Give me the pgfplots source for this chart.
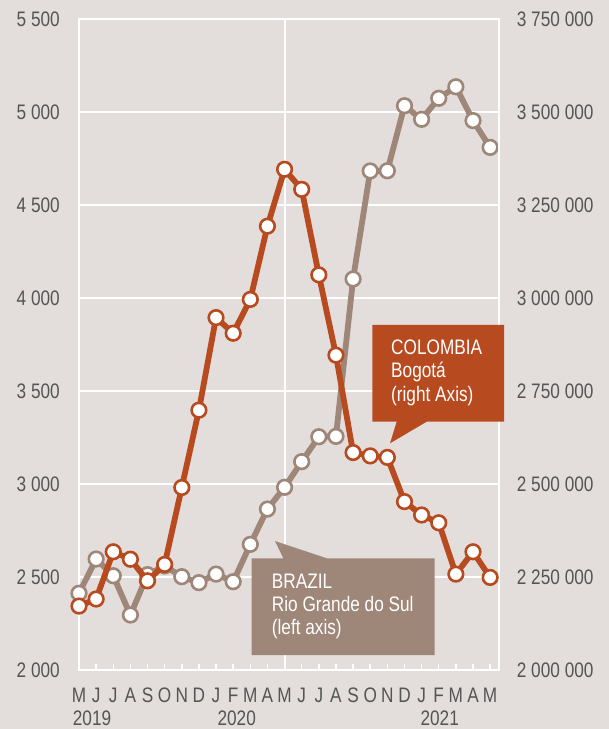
\documentclass[border=0pt]{standalone}
\usepackage{fontspec}
\setmainfont{Liberation Sans}[FakeStretch=0.82]
\usepackage{pgfplots}
\pgfplotsset{compat=1.18}
\usetikzlibrary{backgrounds}
\definecolor{bgc}{RGB}{227,222,219}
\definecolor{oran}{RGB}{184,74,32}
\definecolor{brz}{RGB}{158,134,120}
\definecolor{lab}{RGB}{85,85,85}
\newcommand{\lf}{\fontsize{21}{24}\selectfont}
\begin{document}
\begin{tikzpicture}
\begin{axis}[
  scale only axis, width=419.7pt, height=650.5pt,
  xmin=0, xmax=24.5, ymin=2000, ymax=5500,
  clip=false,
  axis line style={white, line width=2pt},
  xtick={0,...,24},
  xticklabels={M,J,J,A,S,O,N,D,J,F,M,A,M,J,J,A,S,O,N,D,J,F,M,A,M},
  xtick pos=lower, tick align=inside,
  major tick length=6pt,
  x tick style={white, line width=1.5pt},
  xticklabel style={anchor=base, yshift=-32pt, inner sep=0pt, font=\lf, text=lab},
  extra x ticks={12},
  extra x tick labels={},
  extra x tick style={grid=major, major grid style={white, line width=2pt}, major tick length=0pt},
  ytick={2000,2500,...,5500},
  yticklabels={2 000,2 500,3 000,3 500,4 000,4 500,5 000,5 500},
  ytick pos=left,
  y tick style={draw=none},
  yticklabel style={anchor=east, inner sep=0pt, xshift=-19pt, font=\lf, text=lab},
  ymajorgrids, major grid style={white, line width=2pt},
]
\coordinate (O) at (rel axis cs:0,0);
\addplot[brz, line width=5.8pt, mark=*, mark size=7.3pt,
  mark options={fill=white, draw=brz, line width=2.6pt}] coordinates {
(0,2413) (1,2597) (2,2507) (3,2296) (4,2513) (5,2560) (6,2502) (7,2470)
(8,2516) (9,2475) (10,2676) (11,2866) (12,2983) (13,3121) (14,3255) (15,3257)
(16,4104) (17,4685) (18,4686) (19,5036) (20,4963) (21,5076) (22,5138) (23,4956) (24,4812)
};
\end{axis}
\begin{axis}[
  scale only axis, width=419.7pt, height=650.5pt,
  xmin=0, xmax=24.5, ymin=2000000, ymax=3750000,
  clip=false,
  hide x axis,
  axis y line*=right,
  axis line style={white, line width=2pt},
  scaled y ticks=false,
  ytick={2000000,2250000,2500000,2750000,3000000,3250000,3500000,3750000},
  yticklabels={2 000 000,2 250 000,2 500 000,2 750 000,3 000 000,3 250 000,3 500 000,3 750 000},
  y tick style={draw=none},
  yticklabel style={anchor=west, inner sep=0pt, xshift=18pt, font=\lf, text=lab},
]
\addplot[oran, line width=5.8pt, mark=*, mark size=7.3pt,
  mark options={fill=white, draw=oran, line width=2.6pt}] coordinates {
(0,2172000) (1,2191000) (2,2318000) (3,2298000) (4,2240000) (5,2284000) (6,2491000)
(7,2699000) (8,2948000) (9,2906000) (10,2997000) (11,3194000) (12,3347000) (13,3293000)
(14,3063000) (15,2847000) (16,2585000) (17,2576000) (18,2572000) (19,2453000)
(20,2417000) (21,2396000) (22,2258000) (23,2318000) (24,2249000)
};
\end{axis}
\begin{scope}[shift={(O)}, xshift=-79pt, yshift=-59pt, x=1pt, y=1pt]
\begin{scope}[on background layer]
\fill[bgc] (0,0) rectangle (609,729);
\end{scope}
% callouts
\fill[oran] (372.3,404) -- (504,404) -- (504,307.3) -- (426.7,307.3) -- (390,285.7) -- (396.7,307.3) -- (372.3,307.3) -- cycle;
\node[anchor=base west, inner sep=0pt, text=white, font=\lf] at (391,374.7) {COLOMBIA};
\node[anchor=base west, inner sep=0pt, text=white, font=\lf] at (391,351) {Bogotá};
\node[anchor=base west, inner sep=0pt, text=white, font=\lf] at (391,327.3) {(right Axis)};
\fill[brz] (251.7,170.7) -- (283.3,170.7) -- (275,188) -- (326.7,170.7) -- (434.7,170.7) -- (434.7,74) -- (251.7,74) -- cycle;
\node[anchor=base west, inner sep=0pt, text=white, font=\lf] at (271.7,140.7) {BRAZIL};
\node[anchor=base west, inner sep=0pt, text=white, font=\lf] at (271.7,117.3) {Rio Grande do Sul};
\node[anchor=base west, inner sep=0pt, text=white, font=\lf] at (271.7,95) {(left axis)};
% years
\node[anchor=base west, inner sep=0pt, text=lab, font=\lf] at (72.7,3.5) {2019};
\node[anchor=base, inner sep=0pt, text=lab, font=\lf] at (236.7,3.5) {2020};
\node[anchor=base, inner sep=0pt, text=lab, font=\lf] at (439.7,3.5) {2021};
\pgfresetboundingbox
\useasboundingbox (0,0) rectangle (609,729);
\end{scope}
\end{tikzpicture}
\end{document}
